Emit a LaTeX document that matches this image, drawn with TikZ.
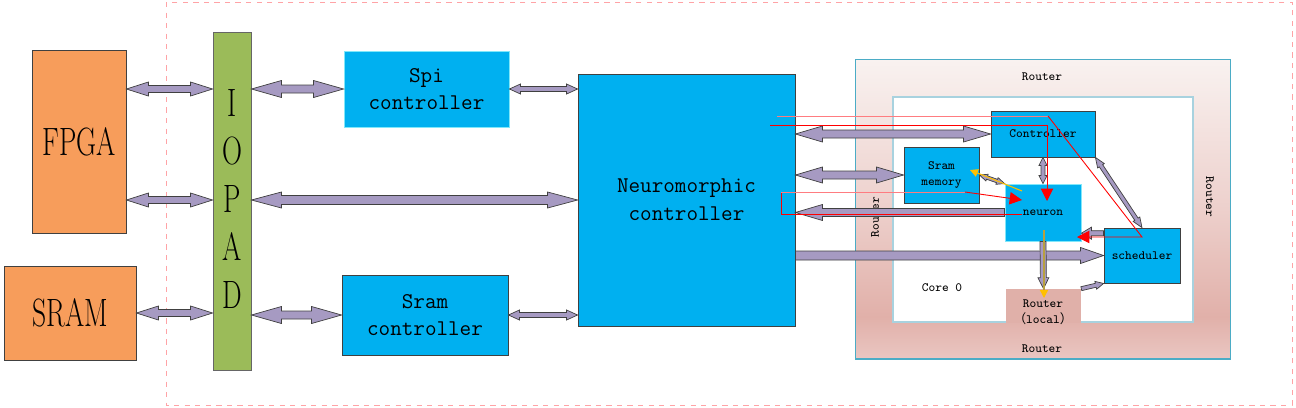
\documentclass[tikz,border=0pt]{standalone}
\usepackage{fontspec}
\newfontfamily\cjk{Noto Sans CJK SC}
\usetikzlibrary{calc,arrows.meta}

\definecolor{fpgaorange}{HTML}{F79D5B}
\definecolor{padgreen}{HTML}{9BBB59}
\definecolor{blockcyan}{HTML}{00B0F0}
\definecolor{busfill}{HTML}{A69AC2}
\definecolor{routeredge}{HTML}{4BACC6}
\definecolor{coreedge}{HTML}{A8D2DF}
\definecolor{localpink}{HTML}{E0B0A9}
\definecolor{sigred}{HTML}{FF0000}
\definecolor{siglight}{HTML}{FF7C80}
\definecolor{sigyellow}{HTML}{FFC000}
\definecolor{sigolive}{HTML}{B8A040}
\definecolor{rtT}{HTML}{F9F2F0}
\definecolor{rtM}{HTML}{EDD0CC}
\definecolor{rtD}{HTML}{E1B0A9}
\definecolor{rtB}{HTML}{EAC6C2}
\pgfdeclareverticalshading{routerfade}{100bp}{color(0bp)=(rtB); color(25bp)=(rtB); color(32bp)=(rtD); color(50bp)=(rtM); color(75bp)=(rtT); color(100bp)=(rtT)}

\tikzset{
  blk/.style={rectangle, fill=blockcyan, draw=black!75, line width=0.5pt, inner sep=0pt, align=center},
  blklight/.style={blk, draw=blockcyan!60!cyan!50!white},
  ext/.style={rectangle, fill=fpgaorange, draw=black!75, line width=0.5pt, inner sep=0pt},
  bigtxt/.style={font=\fontsize{22.5}{27}\selectfont},
  midtxt/.style={font=\fontsize{12.8}{15.8}\selectfont\ttfamily},
  smalltxt/.style={font=\fontsize{7.2}{9}\selectfont\ttfamily},
  bus/.style={fill=busfill, draw=black!75, line width=0.4pt},
  sig/.style={draw=sigred, line width=0.5pt},
  sighead/.style={-{Triangle[length=7pt,width=7pt,color=sigred]}},
  ylhead/.style={-{Triangle[length=4.5pt,width=4.5pt,color=sigyellow]}},
}

% fat double-headed bus: from, to, shaft half width, head half width, head length
\newcommand{\dbus}[5]{%
  \coordinate (q1) at (#1); \coordinate (q2) at (#2);
  \coordinate (p1) at ($(q1)!#5!(q2)$); \coordinate (p2) at ($(q2)!#5!(q1)$);
  \draw[bus] (q1) -- ($(p1)!#4!90:(q2)$) -- ($(p1)!#3!90:(q2)$) -- ($(p2)!#3!-90:(q1)$)
    -- ($(p2)!#4!-90:(q1)$) -- (q2) -- ($(p2)!#4!90:(q1)$) -- ($(p2)!#3!90:(q1)$)
    -- ($(p1)!#3!-90:(q2)$) -- ($(p1)!#4!-90:(q2)$) -- cycle;}
% fat single-headed bus, head at the second point
\newcommand{\sbus}[5]{%
  \coordinate (q1) at (#1); \coordinate (q2) at (#2);
  \coordinate (p2) at ($(q2)!#5!(q1)$);
  \draw[bus] ($(q1)!#3!90:(q2)$) -- ($(p2)!#3!-90:(q1)$) -- ($(p2)!#4!-90:(q1)$) -- (q2)
    -- ($(p2)!#4!90:(q1)$) -- ($(p2)!#3!90:(q1)$) -- ($(q1)!#3!-90:(q2)$) -- cycle;}

\begin{document}
\begin{tikzpicture}[x=0.02cm, y=-0.02cm]
  \useasboundingbox (0,0) rectangle (1296,407);
  \draw[draw=siglight!70, dashed, line width=0.4pt] (166,2) rectangle (1292,405);

  % off chip and pads
  \node[ext, minimum width=1.88cm, minimum height=3.66cm, bigtxt] (fpga) at (79,141.5) {\scalebox{0.7}[1]{FPGA}};
  \node[ext, minimum width=2.64cm, minimum height=1.88cm, bigtxt] (sram) at (70,313) {\scalebox{0.7}[1]{SRAM}};
  \node[rectangle, fill=padgreen, draw=black!60, line width=0.5pt, minimum width=0.76cm, minimum height=6.76cm] (iopad) at (232,201) {};
  \foreach \l [count=\i] in {I,O,P,A,D}
    \node[bigtxt] (io\i) at (232,55+48*\i) {\scalebox{0.7}[1]{\l}};

  \node[blklight, minimum width=3.3cm, minimum height=1.52cm, midtxt] (spi) at (426.5,89) {Spi\\controller};
  \node[blk, minimum width=3.32cm, minimum height=1.6cm, midtxt] (sramctrl) at (425,315) {Sram\\controller};
  \node[blk, minimum width=4.34cm, minimum height=5.04cm, midtxt] (neuro) at (686.5,200) {Neuromorphic\\controller};

  % core with router ring
  \node[shade, shading=routerfade, draw=routeredge, line width=0.6pt, minimum width=7.52cm, minimum height=6cm] (router) at (1043,209) {};
  \node[fill=white, draw=coreedge, line width=0.9pt, minimum width=6cm, minimum height=4.5cm] (core) at (1043,209.5) {};
  \node[smalltxt] (rtop) at (1042,77) {Router};
  \node[smalltxt] (rbot) at (1042,349) {Router};
  \node[smalltxt, rotate=90] (rleft) at (875,217) {Router};
  \node[smalltxt, rotate=-90] (rright) at (1210,197) {Router};
  \node[smalltxt] (core0) at (942,288) {Core 0};
  \node[fill=localpink, inner sep=0pt, minimum width=1.5cm, minimum height=0.68cm] (rlocal) at (1043.5,306) {};
  \node[smalltxt, align=center] (rlocaltxt) at (1043,312.5) {Router\\{\cjk （}local{\cjk ）}};

  \node[blk, minimum width=2.08cm, minimum height=0.92cm, smalltxt] (ctrl) at (1043,134) {Controller};
  \node[blk, minimum width=1.5cm, minimum height=1.12cm, smalltxt] (smem) at (941.5,175) {Sram\\memory};
  \node[blklight, minimum width=1.52cm, minimum height=1.14cm, smalltxt] (neuron) at (1043,212.5) {neuron};
  \node[blk, minimum width=1.52cm, minimum height=1.1cm, smalltxt] (sched) at (1142,255.5) {scheduler};

  % buses
  \dbus{fpga.east |- spi}{iopad.west |- spi}{0.07cm}{0.14cm}{0.44cm}
  \dbus{fpga.east |- neuro}{iopad.west |- neuro}{0.07cm}{0.14cm}{0.44cm}
  \dbus{sram.east}{iopad.west |- sram.east}{0.07cm}{0.14cm}{0.44cm}
  \dbus{iopad.east |- spi.west}{spi.west}{0.08cm}{0.17cm}{0.6cm}
  \dbus{iopad.east |- neuro.west}{neuro.west}{0.09cm}{0.16cm}{0.6cm}
  \dbus{iopad.east |- sramctrl.west}{sramctrl.west}{0.08cm}{0.17cm}{0.6cm}
  \dbus{spi.east}{neuro.west |- spi.east}{0.05cm}{0.1cm}{0.22cm}
  \dbus{sramctrl.east}{neuro.west |- sramctrl.east}{0.05cm}{0.1cm}{0.22cm}
  \dbus{neuro.east |- ctrl.west}{ctrl.west}{0.08cm}{0.16cm}{0.54cm}
  \dbus{neuro.east |- smem.west}{smem.west}{0.08cm}{0.16cm}{0.54cm}
  \sbus{neuron.west}{neuro.east |- neuron.west}{0.08cm}{0.16cm}{0.54cm}
  \sbus{neuro.east |- sched.west}{sched.west}{0.09cm}{0.16cm}{0.46cm}
  \dbus{ctrl.south}{neuron.north}{0.04cm}{0.08cm}{0.16cm}
  \dbus{ctrl.south east}{sched.north}{0.04cm}{0.08cm}{0.2cm}
  \dbus{smem.east}{neuron.north west}{0.035cm}{0.07cm}{0.16cm}
  \coordinate (schedin) at ($(sched.north west)!0.1!(sched.south west)$);
  \sbus{schedin}{neuron.east |- schedin}{0.05cm}{0.12cm}{0.2cm}
  \sbus{neuron.south}{rlocal.north}{0.06cm}{0.11cm}{0.22cm}
  \sbus{rlocal.north east}{sched.south west}{0.04cm}{0.08cm}{0.16cm}

  % signal traces
  \coordinate (sigA) at (777,116);
  \coordinate (sigAend) at (1077,237);
  \coordinate (sigB) at (770,125);
  \coordinate (sigBend) at (1047,201);
  \coordinate (sigC) at (1022,214);
  \coordinate (sigCend) at (1022,200);
  \draw[sig, draw=siglight] (sigA) -- (1048,116);
  \draw[sig, sighead] (1048,116) -- (1142,237) -- (sigAend);
  \draw[sig, sighead] (sigB) -- (1047,125) -- (sigBend);
  \draw[sig] (sigC) -- (781,214) -- (781,192);
  \draw[sig, draw=siglight] (781,192) -- (965,192);
  \draw[sig, sighead] (965,192) -- (sigCend);
  \coordinate (ylA) at (1022,191);
  \coordinate (ylAend) at (970,170);
  \coordinate (ylB) at (1044,230);
  \coordinate (ylBend) at (1044,298);
  \draw[draw=sigyellow, line width=0.6pt, ylhead] (ylA) -- (ylAend);
  \draw[draw=sigolive, line width=0.7pt, ylhead] (ylB) -- (ylBend);
\end{tikzpicture}
\end{document}
